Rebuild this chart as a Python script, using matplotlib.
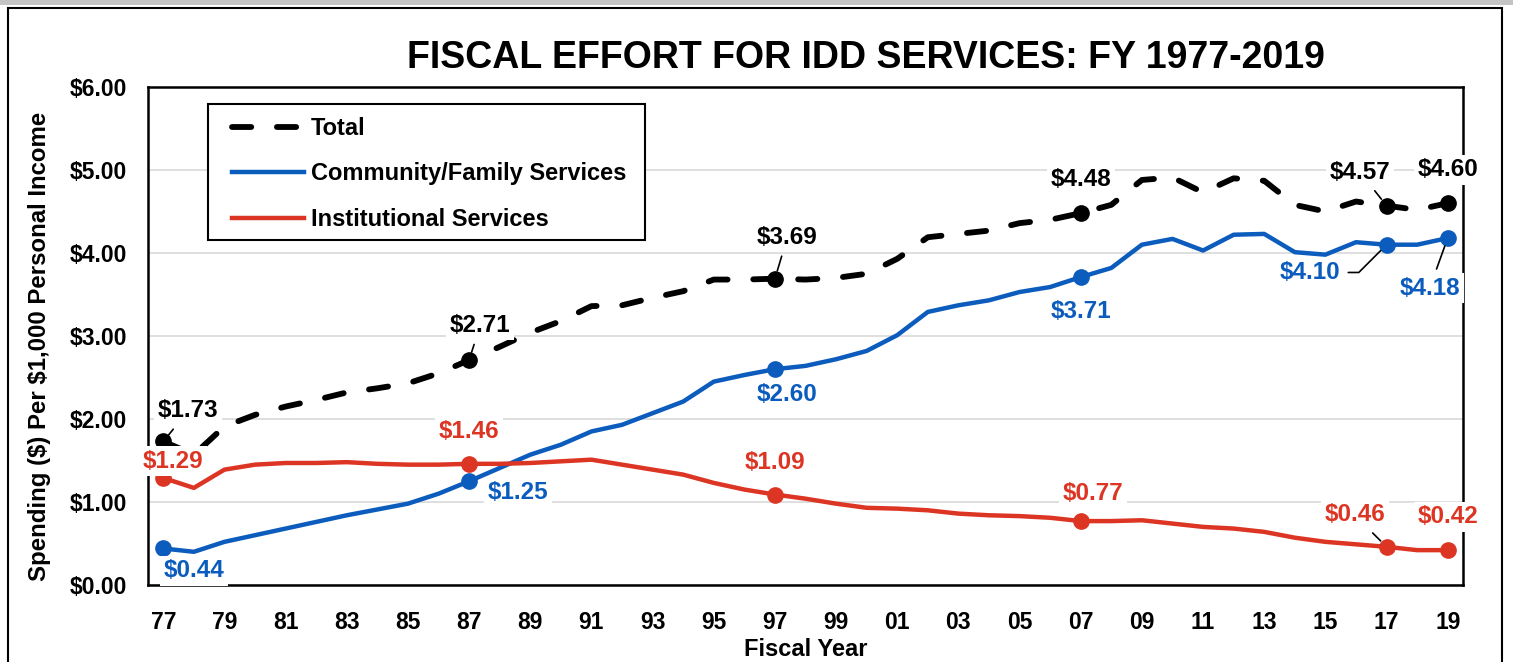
import matplotlib
matplotlib.use("Agg")
import matplotlib.pyplot as plt
from matplotlib.patches import Rectangle
import numpy as np

plt.rcParams['font.family'] = ['Liberation Sans', 'DejaVu Sans']
plt.rcParams['font.weight'] = 'bold'

# data (spending per $1,000 personal income)
years = list(range(1977, 2020))
total = [1.73, 1.57, 1.91, 2.05, 2.15, 2.23, 2.32, 2.37, 2.43, 2.55,
         2.71, 2.87, 3.04, 3.18, 3.36, 3.37, 3.46, 3.54, 3.68, 3.68,
         3.69, 3.68, 3.70, 3.75, 3.93, 4.19, 4.23, 4.27, 4.36, 4.40,
         4.48, 4.58, 4.88, 4.91, 4.73, 4.90, 4.87, 4.58, 4.50, 4.62,
         4.57, 4.52, 4.60]
community = [0.44, 0.40, 0.52, 0.60, 0.68, 0.76, 0.84, 0.91, 0.98, 1.10,
             1.25, 1.41, 1.57, 1.69, 1.85, 1.93, 2.07, 2.21, 2.45, 2.53,
             2.60, 2.64, 2.72, 2.82, 3.01, 3.29, 3.37, 3.43, 3.53, 3.59,
             3.71, 3.82, 4.10, 4.17, 4.03, 4.22, 4.23, 4.01, 3.98, 4.13,
             4.10, 4.10, 4.18]
institutional = [1.29, 1.17, 1.39, 1.45, 1.47, 1.47, 1.48, 1.46, 1.45, 1.45,
                 1.46, 1.46, 1.47, 1.49, 1.51, 1.45, 1.39, 1.33, 1.23, 1.15,
                 1.09, 1.04, 0.98, 0.93, 0.92, 0.90, 0.86, 0.84, 0.83, 0.81,
                 0.77, 0.77, 0.78, 0.74, 0.70, 0.68, 0.64, 0.57, 0.52, 0.49,
                 0.46, 0.42, 0.42]
label_years = [1977, 1987, 1997, 2007, 2017, 2019]
tick_years = list(range(1977, 2020, 2))
tick_labels = ["%02d" % (y % 100) for y in tick_years]

BLACK = "#000000"
BLUE = "#0B5CBD"
RED = "#DD3524"

fig = plt.figure(figsize=(15.13, 6.62), dpi=100)
ax = fig.add_axes([148/1513, 77/662, 1315/1513, 498/662])

# outer frame like the source sheet
fig.add_artist(Rectangle((0, 657/662), 1, 5/662, transform=fig.transFigure,
                         facecolor="#c4c4c4", edgecolor="none"))
fig.add_artist(Rectangle((8/1513, -0.02), 1494/1513, 1.02 - 8/662,
                         transform=fig.transFigure, facecolor="none",
                         edgecolor="black", linewidth=1.5))

ax.plot(years, total, color=BLACK, lw=4.2, dashes=(3.3, 4.4),
        dash_capstyle="round", label="Total")
ax.plot(years, community, color=BLUE, lw=3.2, label="Community/Family Services")
ax.plot(years, institutional, color=RED, lw=3.2, label="Institutional Services")

idx = [years.index(y) for y in label_years]
for vals, c in [(total, BLACK), (community, BLUE), (institutional, RED)]:
    ax.plot([years[i] for i in idx], [vals[i] for i in idx], "o", color=c,
            ms=11, zorder=4)

# label offsets in points: (dx, dy, leader style or None)
offs = {
    BLACK: [(18, 22, "arc3"), (8, 25, "arc3"), (9, 30, "arc3"), (0, 24, None),
            (-19, 24, "arc3"), (0, 24, None)],
    BLUE: [(22, -16, None), (35, -8, None), (9, -18, None), (0, -25, None),
           (-55, -20, "angle,angleA=0,angleB=45,rad=0"), (-13, -36, "arc3")],
    RED: [(7, 12, None), (0, 23, None), (0, 23, None), (9, 20, None),
          (-23, 23, "arc3"), (0, 24, None)],
}
for vals, c in [(total, BLACK), (community, BLUE), (institutional, RED)]:
    for i, (dx, dy, lead) in zip(idx, offs[c]):
        kw = {}
        if lead:
            kw["arrowprops"] = dict(arrowstyle="-", color="black", lw=1.2,
                                    shrinkA=3, shrinkB=6, connectionstyle=lead)
        ax.annotate("$%.2f" % vals[i], (years[i], vals[i]), xytext=(dx, dy),
                    textcoords="offset points", ha="center", va="center",
                    fontsize=17.5, fontweight="bold", color=c, zorder=5,
                    bbox=dict(boxstyle="square,pad=0.15", fc="white", ec="none"),
                    **kw)

ax.set_xlim(1976.5, 2019.5)
ax.set_ylim(0, 6)
ax.set_yticks(np.arange(0, 7, 1))
ax.set_yticklabels(["$%.2f" % v for v in np.arange(0, 7, 1)])
ax.set_xticks(tick_years)
ax.set_xticklabels(tick_labels)
ax.tick_params(axis="x", length=0, pad=19, labelsize=16.5)
ax.tick_params(axis="y", length=0, pad=15, labelsize=16.5)
ax.grid(axis="y", color="#d9d9d9", lw=1.2)
ax.set_axisbelow(True)
for s in ax.spines.values():
    s.set_linewidth(1.8)

ax.set_ylabel("Spending (\\$) Per \\$1,000 Personal Income", fontsize=17.3,
              fontweight="bold")
ax.yaxis.set_label_coords(-0.074, 0.48)
ax.set_xlabel("Fiscal Year", fontsize=17, fontweight="bold", va="top")
ax.xaxis.set_label_coords(0.5, -0.106)

fig.text(866/1513, 1 - 58/662, "FISCAL EFFORT FOR IDD SERVICES: FY 1977-2019",
         ha="center", va="center", fontsize=27, fontweight="bold")

# legend box drawn separately so the padding matches
ax.add_patch(Rectangle(((208-148)/1315, (585-240)/498), 437/1315, 136/498,
                       transform=ax.transAxes, facecolor="white",
                       edgecolor="black", lw=1.5, zorder=6))
leg = ax.legend(loc="upper left", bbox_to_anchor=((232-148)/1315, (585-117)/498),
                fontsize=17, frameon=False, handlelength=3.05,
                labelspacing=0.95, borderpad=0, handletextpad=0.3,
                borderaxespad=0)
leg.set_zorder(7)
for t in leg.get_texts():
    t.set_fontweight("bold")

fig.savefig("out.png", dpi=100)
